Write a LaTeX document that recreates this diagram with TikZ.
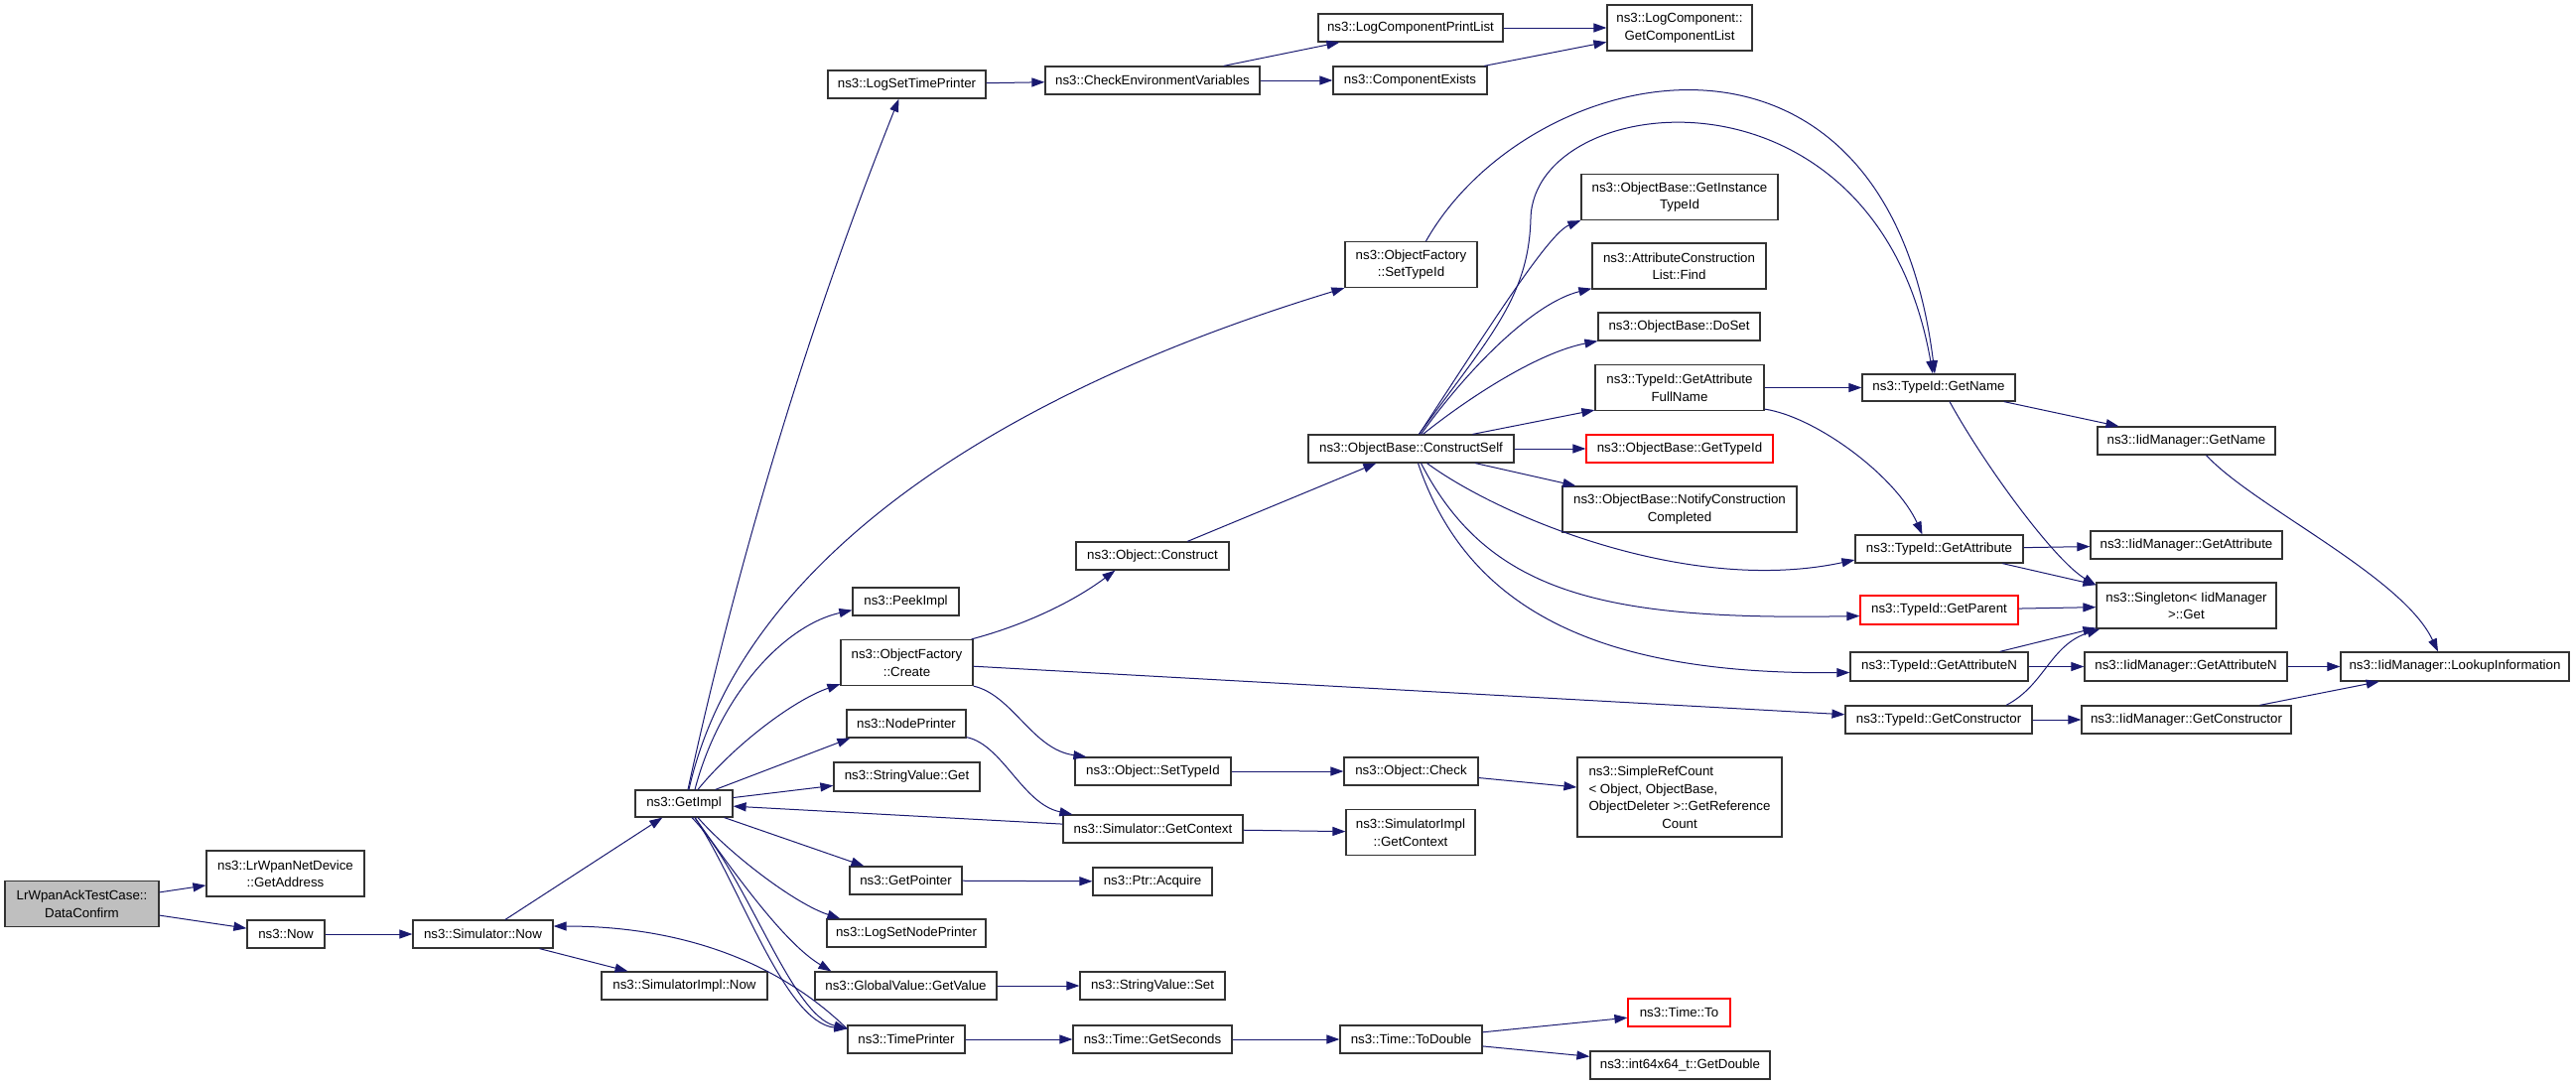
\documentclass[tikz,border=0pt]{standalone}
\usepackage{fontspec}
\setmainfont{Liberation Sans}
\usetikzlibrary{arrows.meta}
\definecolor{edgeblue}{HTML}{191970}
\definecolor{rootgray}{HTML}{BFBFBF}
\newcommand{\callfont}{\fontsize{13.3}{17.5}\selectfont}
\newlength{\refcw}
\AtBeginDocument{\settowidth{\refcw}{\callfont ObjectDeleter >::GetReference}}

\begin{document}
\begin{tikzpicture}[x=1pt,y=-1pt,
    fn/.style={draw=black!80, line width=1.2pt, fill=white, inner sep=0pt, minimum height=28pt, align=center, font=\callfont},
    fn2/.style={fn, minimum height=46pt},
    fnred/.style={fn, draw=red},
    call/.style={draw=edgeblue, line width=1pt, -{Triangle[length=13pt,width=9pt]}}]
    \useasboundingbox (0,0) rectangle (2595,1093);
    \fill[white] (0,0) rectangle (2595,1093);

    \node[fn2, fill=rootgray, minimum width=155pt] (dc) at (82.5,910.5) {LrWpanAckTestCase::\\DataConfirm};
    \node[fn2, minimum width=159pt] (addr) at (287.5,880) {ns3::LrWpanNetDevice\\::GetAddress};
    \node[fn, minimum width=78pt] (now) at (288,941) {ns3::Now};
    \node[fn, minimum width=141pt] (simnow) at (486.5,941) {ns3::Simulator::Now};
    \node[fn, minimum width=167pt] (implnow) at (689.5,993) {ns3::SimulatorImpl::Now};
    \node[fn, minimum width=98pt, minimum height=27pt] (getimpl) at (689,809.5) {ns3::GetImpl};

    \node[fn, minimum width=159pt] (lstp) at (913.5,85) {ns3::LogSetTimePrinter};
    \node[fn, minimum width=107pt] (peek) at (912.5,606) {ns3::PeekImpl};
    \node[fn2, minimum width=133pt] (ofcreate) at (913.5,667.5) {ns3::ObjectFactory\\::Create};
    \node[fn, minimum width=120pt] (nodepr) at (913,729) {ns3::NodePrinter};
    \node[fn, minimum width=147pt, minimum height=29pt] (svget) at (913.5,782.5) {ns3::StringValue::Get};
    \node[fn, minimum width=113pt] (getptr) at (912.5,887) {ns3::GetPointer};
    \node[fn, minimum width=160pt] (lsnp) at (913,940) {ns3::LogSetNodePrinter};
    \node[fn, minimum width=183pt] (gvget) at (912.5,993) {ns3::GlobalValue::GetValue};
    \node[fn, minimum width=118pt] (timepr) at (913,1047) {ns3::TimePrinter};

    \node[fn, minimum width=216pt] (cenv) at (1161,81) {ns3::CheckEnvironmentVariables};
    \node[fn, minimum width=154pt] (oconstruct) at (1161,560) {ns3::Object::Construct};
    \node[fn, minimum width=157pt] (osettid) at (1161.5,777) {ns3::Object::SetTypeId};
    \node[fn, minimum width=181pt] (simgetctx) at (1161.5,835) {ns3::Simulator::GetContext};
    \node[fn, minimum width=120pt] (acquire) at (1161,888) {ns3::Ptr::Acquire};
    \node[fn, minimum width=146pt] (svset) at (1161,993) {ns3::StringValue::Set};
    \node[fn, minimum width=160pt] (getsec) at (1161,1047) {ns3::Time::GetSeconds};

    \node[fn, minimum width=186pt] (lcpl) at (1421,28) {ns3::LogComponentPrintList};
    \node[fn, minimum width=155pt] (cexists) at (1420.5,81) {ns3::ComponentExists};
    \node[fn2, minimum width=133pt] (ofsettid) at (1421.5,266.5) {ns3::ObjectFactory\\::SetTypeId};
    \node[fn, minimum width=207pt] (cself) at (1421.5,452) {ns3::ObjectBase::ConstructSelf};
    \node[fn, minimum width=135pt] (ocheck) at (1421.5,777) {ns3::Object::Check};
    \node[fn2, minimum width=130pt] (implgetctx) at (1421,838.5) {ns3::SimulatorImpl\\::GetContext};
    \node[fn, minimum width=143pt] (todouble) at (1421.5,1047) {ns3::Time::ToDouble};

    \node[fn2, minimum width=146pt] (gcl) at (1692,28) {ns3::LogComponent::\\GetComponentList};
    \node[fn2, minimum width=198pt] (gitid) at (1692,198.5) {ns3::ObjectBase::GetInstance\\TypeId};
    \node[fn2, minimum width=175pt] (aclfind) at (1691.5,268) {ns3::AttributeConstruction\\List::Find};
    \node[fn, minimum width=163pt] (doset) at (1691.5,329) {ns3::ObjectBase::DoSet};
    \node[fn2, minimum width=170pt] (gafn) at (1692,390.5) {ns3::TypeId::GetAttribute\\FullName};
    \node[fnred, minimum width=188pt] (gettid) at (1692,452) {ns3::ObjectBase::GetTypeId};
    \node[fn2, minimum width=236pt] (notify) at (1692,513) {ns3::ObjectBase::NotifyConstruction\\Completed};
    \node[fn, minimum width=206pt, minimum height=80pt] (srefcount) at (1692,803) {\makebox[\refcw][l]{ns3::SimpleRefCount}\\\makebox[\refcw][l]{< Object, ObjectBase,}\\ObjectDeleter >::GetReference\\Count};
    \node[fnred, minimum width=103pt] (timeto) at (1691.5,1020) {ns3::Time::To};
    \node[fn, minimum width=181pt] (getdouble) at (1692.5,1073) {ns3::int64x64\_t::GetDouble};

    \node[fn, minimum width=154pt, minimum height=27pt] (tgetname) at (1953,390.5) {ns3::TypeId::GetName};
    \node[fn, minimum width=169pt] (tgetattr) at (1953.5,553) {ns3::TypeId::GetAttribute};
    \node[fnred, minimum width=159pt, minimum height=29pt] (tparent) at (1953.5,614.5) {ns3::TypeId::GetParent};
    \node[fn, minimum width=179pt, minimum height=29pt] (tattrn) at (1953.5,671.5) {ns3::TypeId::GetAttributeN};
    \node[fn, minimum width=188pt] (tctor) at (1953,725) {ns3::TypeId::GetConstructor};

    \node[fn, minimum width=179pt] (iname) at (2202.5,444) {ns3::IidManager::GetName};
    \node[fn, minimum width=193pt] (igetattr) at (2202.5,549) {ns3::IidManager::GetAttribute};
    \node[fn2, minimum width=181pt] (single) at (2202.5,610) {ns3::Singleton< IidManager\\ >::Get};
    \node[fn, minimum width=204pt, minimum height=29pt] (iattrn) at (2202,671.5) {ns3::IidManager::GetAttributeN};
    \node[fn, minimum width=211pt] (ictor) at (2202.5,725) {ns3::IidManager::GetConstructor};
    \node[fn, minimum width=230pt, minimum height=29pt] (lookup) at (2473,671.5) {ns3::IidManager::LookupInformation};

    \draw[call] (dc) -- (addr);
    \draw[call] (dc) -- (now);
    \draw[call] (now) -- (simnow);
    \draw[call] (simnow) -- (getimpl);
    \draw[call] (simnow) -- (implnow);
    \draw[call] ([yshift=-4pt]timepr.north west) .. controls (780,965) and (680,933) .. ([yshift=8pt]simnow.east);

    \draw[call] ([xshift=4pt]getimpl.north) .. controls (744.7,557.7) and (815.3,325.3) .. ([xshift=-8pt]lstp.south);
    \draw[call] ([xshift=5pt]getimpl.north) .. controls (740,590) and (960,410) .. (ofsettid.south west);
    \draw[call] ([xshift=11pt]getimpl.north) .. controls (725,700) and (790,630) .. ([yshift=6pt]peek.south west);
    \draw[call] ([xshift=14pt]getimpl.north) .. controls (740,750) and (800,705) .. ([yshift=2pt]ofcreate.south west);
    \draw[call] ([xshift=-18pt]getimpl.north east) -- ([xshift=4pt]nodepr.south west);
    \draw[call] (getimpl) -- (svget);
    \draw[call] (simgetctx) -- (getimpl);
    \draw[call] (getimpl) -- (getptr);
    \draw[call] ([xshift=14pt]getimpl.south) .. controls (735,860) and (800,910) .. ([xshift=14pt]lsnp.north west);
    \draw[call] ([xshift=11pt]getimpl.south) .. controls (740,880) and (790,950) .. ([xshift=17pt]gvget.north west);
    \draw[call] ([xshift=11pt]getimpl.south) .. controls (745,890) and (790,1030) .. ([yshift=-4pt]timepr.north west);
    \draw[call] ([xshift=8pt]getimpl.south) .. controls (752,880) and (796,1022) .. ([yshift=-4pt]timepr.north west);

    \draw[call] (lstp) -- (cenv);
    \draw[call] (cenv) -- (lcpl);
    \draw[call] (cenv) -- (cexists);
    \draw[call] (lcpl) -- (gcl);
    \draw[call] (cexists) -- (gcl);
    \draw[call] ([xshift=15pt]ofsettid.north) .. controls (1540,60) and (1900,-20) .. ([xshift=-4pt]tgetname.north);

    \draw[call] ([xshift=-2pt]ofcreate.north east) .. controls (1031,630) and (1080,607) .. ([xshift=40pt]oconstruct.south west);
    \draw[call] (oconstruct) -- (cself);
    \draw[call] (ofcreate) -- (tctor);
    \draw[call] (ofcreate.south east) .. controls (1020,700) and (1040,755) .. ([xshift=12pt]osettid.north west);
    \draw[call] ([yshift=1pt]nodepr.south east) .. controls (1010,750) and (1030,810) .. ([xshift=10pt]simgetctx.north west);
    \draw[call] (osettid) -- (ocheck);
    \draw[call] (ocheck) -- (srefcount);
    \draw[call] (simgetctx) -- (implgetctx);
    \draw[call] (getptr) -- (acquire);
    \draw[call] (gvget) -- (svset);
    \draw[call] (timepr) -- (getsec);
    \draw[call] (getsec) -- (todouble);
    \draw[call] (todouble) -- (timeto);
    \draw[call] (todouble) -- (getdouble);

    \draw[call] ([xshift=8pt]cself.north) .. controls (1500,340) and (1540,300) .. (1542,220) .. controls (1545,90) and (1890,50) .. ([xshift=-6pt]tgetname.north);
    \draw[call] ([xshift=8pt]cself.north) .. controls (1500,330) and (1560,235) .. (gitid.south west);
    \draw[call] ([xshift=10pt]cself.north) .. controls (1480,370) and (1545,305) .. ([yshift=1pt]aclfind.south west);
    \draw[call] ([xshift=12pt]cself.north) .. controls (1480,400) and (1550,355) .. (doset.south west);
    \draw[call] ([xshift=62pt]cself.north) -- ([yshift=1pt]gafn.south west);
    \draw[call] (cself) -- (gettid);
    \draw[call] (cself) -- (notify);
    \draw[call] ([xshift=16pt]cself.south) .. controls (1510,520) and (1700,600) .. ([yshift=-11pt]tgetattr.west);
    \draw[call] ([xshift=10pt]cself.south) .. controls (1500,600) and (1620,625) .. ([yshift=-6pt]tparent.west);
    \draw[call] ([xshift=7pt]cself.south) .. controls (1480,620) and (1620,680) .. ([yshift=-6pt]tattrn.west);

    \draw[call] (gafn) -- (tgetname);
    \draw[call] ([yshift=2pt]gafn.south east) .. controls (1830,420) and (1910,480) .. ([xshift=-17pt]tgetattr.north);
    \draw[call] (tgetname) -- (iname);
    \draw[call] ([xshift=11pt]tgetname.south) .. controls (2000,470) and (2070,565) .. ([yshift=-3pt]single.north west);
    \draw[call] (tgetattr) -- (igetattr);
    \draw[call] (tgetattr) -- (single);
    \draw[call] (tparent) -- (single);
    \draw[call] (tattrn) -- (single);
    \draw[call] (tattrn) -- (iattrn);
    \draw[call] ([xshift=68pt]tctor.north) .. controls (2060,690) and (2065,650) .. ([xshift=4pt]single.south west);
    \draw[call] (tctor) -- (ictor);
    \draw[call] ([xshift=20pt]iname.south) .. controls (2270,510) and (2420,580) .. ([xshift=-17pt]lookup.north);
    \draw[call] (iattrn) -- (lookup);
    \draw[call] (ictor) -- (lookup);
\end{tikzpicture}
\end{document}
